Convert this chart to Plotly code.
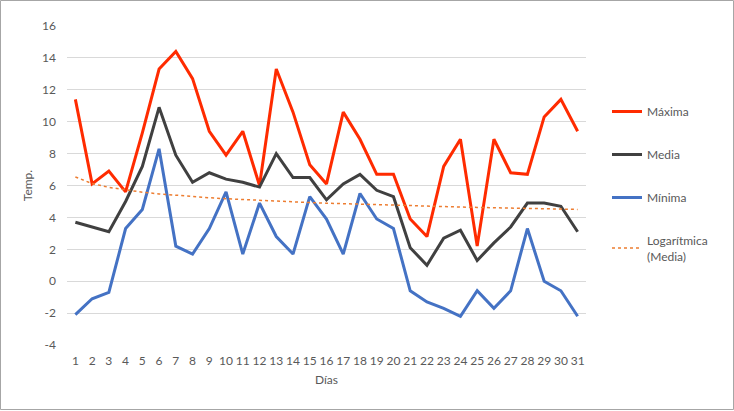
import numpy as np
import plotly.graph_objects as go

dias = list(range(1, 32))
maxima = [11.4, 6.1, 6.9, 5.6, 9.3, 13.3, 14.4, 12.7, 9.4, 7.9, 9.4, 6.0, 13.3, 10.6, 7.3, 6.1,
          10.6, 8.9, 6.7, 6.7, 3.9, 2.8, 7.2, 8.9, 2.2, 8.9, 6.8, 6.7, 10.3, 11.4, 9.4]
media = [3.7, 3.4, 3.1, 5.0, 7.2, 10.9, 7.9, 6.2, 6.8, 6.4, 6.2, 5.9, 8.0, 6.5, 6.5, 5.1,
         6.1, 6.7, 5.7, 5.3, 2.1, 1.0, 2.7, 3.2, 1.3, 2.4, 3.4, 4.9, 4.9, 4.7, 3.1]
minima = [-2.1, -1.1, -0.7, 3.3, 4.5, 8.3, 2.2, 1.7, 3.3, 5.6, 1.7, 4.9, 2.8, 1.7, 5.3, 3.9,
          1.7, 5.5, 3.9, 3.3, -0.6, -1.3, -1.7, -2.2, -0.6, -1.7, -0.6, 3.3, 0.0, -0.6, -2.2]
y_ticks = [-4, -2, 0, 2, 4, 6, 8, 10, 12, 14, 16]

# logarithmic trendline of Media (least squares on ln(x))
a, b = np.polyfit(np.log(dias), media, 1)
trend = a * np.log(dias) + b

W, H = 734, 411
ml, mr, mt, mb = 67, 148, 26, 66
pw, ph = W - ml - mr, H - mt - mb


def px_x(x):
    return (x - ml) / pw


def px_y(y):
    return (H - mb - y) / ph


font = "Lato, Carlito, Calibri, sans-serif"
gray = "#595959"

fig = go.Figure()
fig.add_trace(go.Scatter(x=dias, y=maxima, mode="lines", name="Máxima", legendgroup="a",
                         line=dict(color="#FF2B00", width=3)))
fig.add_trace(go.Scatter(x=dias, y=media, mode="lines", name="Media", legendgroup="b",
                         line=dict(color="#404040", width=3)))
fig.add_trace(go.Scatter(x=dias, y=minima, mode="lines", name="Mínima", legendgroup="c",
                         line=dict(color="#4472C4", width=3)))
fig.add_trace(go.Scatter(x=dias, y=trend, mode="lines", name="Logarítmica<br>(Media)", legendgroup="d",
                         line=dict(color="#ED7D31", width=1.5, dash="dot")))

fig.update_layout(
    width=W, height=H,
    margin=dict(l=ml, r=mr, t=mt, b=mb),
    paper_bgcolor="white", plot_bgcolor="white",
    font=dict(family=font, size=12, color=gray),
    hovermode=False,
    xaxis=dict(range=[0.5, 31.5], tickmode="array", tickvals=dias, ticktext=[str(d) for d in dias],
               showgrid=False, zeroline=False, showline=False, ticks="", ticklabelstandoff=7,
               title=dict(text="Días", font=dict(size=12, color=gray), standoff=8),
               tickfont=dict(size=12, color=gray)),
    yaxis=dict(range=[-4, 16], tickmode="array", tickvals=y_ticks, ticktext=[str(v) for v in y_ticks],
               showgrid=True, gridcolor="#D9D9D9", gridwidth=1, zeroline=False, showline=False,
               ticks="", ticklabelstandoff=10,
               title=dict(text="Temp.", font=dict(size=12, color=gray), standoff=6),
               tickfont=dict(size=12, color=gray)),
    legend=dict(x=px_x(607), xanchor="left", y=px_y(97), yanchor="top",
                tracegroupgap=24, font=dict(size=12, color=gray), bgcolor="rgba(0,0,0,0)",
                itemwidth=30),
    shapes=[dict(type="rect", xref="paper", yref="paper",
                 x0=px_x(0.5), x1=px_x(733.5), y0=px_y(409.5), y1=px_y(0.5),
                 line=dict(color="#A6A6A6", width=1), fillcolor="rgba(0,0,0,0)", layer="below")],
)

fig.write_html("out.html", config={"displayModeBar": False},
               post_script="document.body.style.margin='0';")
